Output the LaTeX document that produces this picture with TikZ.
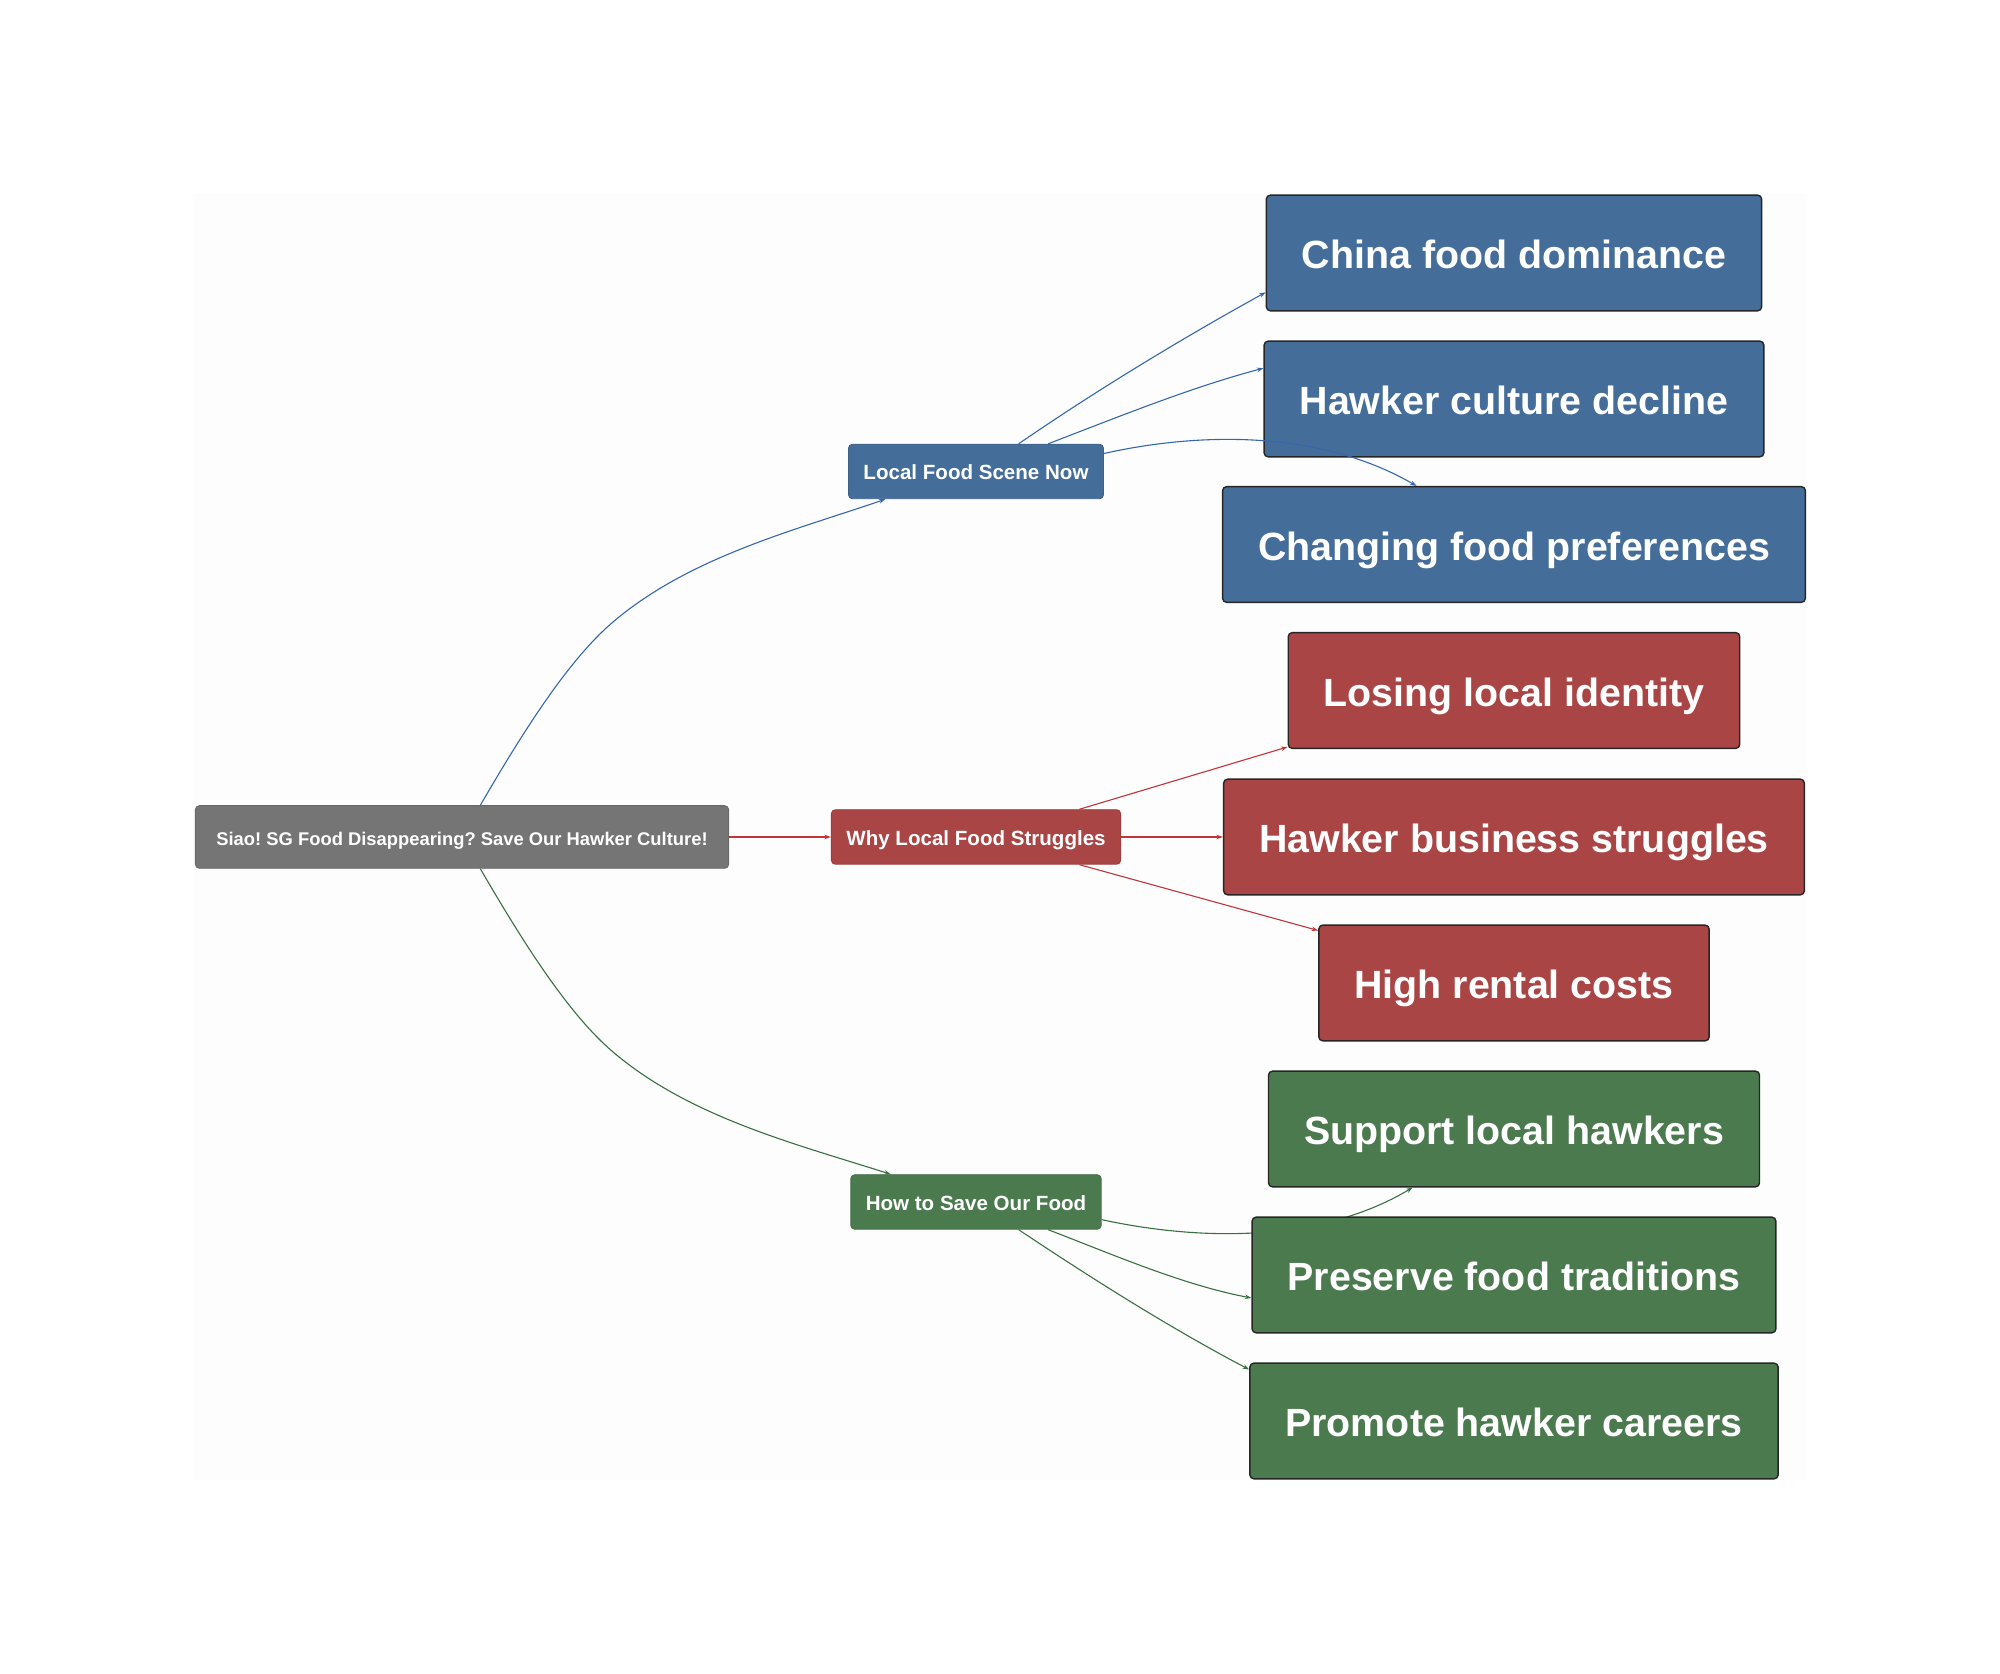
\documentclass[tikz,border=0pt]{standalone}
\usepackage{fontspec}
\setmainfont{Liberation Sans}
\usetikzlibrary{arrows.meta}
\definecolor{rootgray}{HTML}{757575}
\definecolor{sceneblue}{HTML}{446E99}
\definecolor{strugglered}{HTML}{A94545}
\definecolor{savegreen}{HTML}{4A7A4E}
\definecolor{linkblue}{HTML}{3567AE}
\definecolor{linkred}{HTML}{C0343A}
\definecolor{linkgreen}{HTML}{3A7040}
\definecolor{paper}{HTML}{FDFDFD}
\tikzset{
	topicbox/.style={rounded corners=0.04cm, line width=0.09mm, text=white, font=\bfseries\fontsize{5.85}{7}\selectfont, inner xsep=0.15cm, inner ysep=0, minimum height=0.545cm, text height=0.2cm, text depth=0.03cm},
	leafbox/.style={rounded corners=0.04cm, draw=black!85, line width=0.14mm, text=white, font=\bfseries\fontsize{11.2}{13}\selectfont, inner xsep=0.355cm, inner ysep=0, minimum height=1.157cm, text height=0.35cm, text depth=0.03cm},
	link/.style={line width=0.11mm, -{Stealth[length=0.65mm, width=0.45mm]}},
}

\begin{document}
\frenchspacing
\begin{tikzpicture}
			%%%%% START %%%%%
			
			\useasboundingbox (0, 0) rectangle (20, 16.74);
			\fill[white] (0, 0) rectangle (20, 16.74);
			\fill[paper] (1.93, 1.94) rectangle (18.07, 14.81);
			
			\node[topicbox, fill=rootgray, draw=rootgray!90!black, font=\bfseries\fontsize{5.23}{7}\selectfont, inner xsep=0.21cm, minimum height=0.626cm] (root) at (4.62, 8.37) {Siao! SG Food Disappearing? Save Our Hawker Culture!};
			
			\node[topicbox, fill=sceneblue, draw=sceneblue!90!black] (scene) at (9.76, 12.025) {Local Food Scene Now};
			\node[topicbox, fill=strugglered, draw=strugglered!90!black] (struggle) at (9.76, 8.37) {Why Local Food Struggles};
			\node[topicbox, fill=savegreen, draw=savegreen!90!black] (save) at (9.76, 4.72) {How to Save Our Food};
			
			\node[leafbox, fill=sceneblue] (china) at (15.14, 14.21) {China food dominance};
			\node[leafbox, fill=sceneblue] (decline) at (15.14, 12.75) {Hawker culture decline};
			\node[leafbox, fill=sceneblue] (prefs) at (15.14, 11.295) {Changing food preferences};
			\node[leafbox, fill=strugglered] (identity) at (15.14, 9.835) {Losing local identity};
			\node[leafbox, fill=strugglered] (business) at (15.14, 8.37) {Hawker business struggles};
			\node[leafbox, fill=strugglered] (rental) at (15.14, 6.91) {High rental costs};
			\node[leafbox, fill=savegreen] (hawkers) at (15.14, 5.45) {Support local hawkers};
			
			\draw[link, color=linkgreen] (save.-8.5) .. controls (12.0, 4.33) and (13.2, 4.31) .. (hawkers.210);
			
			\node[leafbox, fill=savegreen] (traditions) at (15.14, 3.99) {Preserve food traditions};
			\node[leafbox, fill=savegreen] (careers) at (15.14, 2.53) {Promote hawker careers};
			
			\draw[link, color=linkblue] (root.60) .. controls (5.24, 9.44) and (5.69, 10.146) .. (6.13, 10.52) .. controls (6.9, 11.175) and (7.96, 11.44) .. (scene.197);
			\draw[link, color=linkred] (root.east) -- (struggle.west);
			\draw[link, color=linkgreen] (root.-60) .. controls (5.24, 7.30) and (5.69, 6.594) .. (6.13, 6.22) .. controls (6.9, 5.565) and (7.96, 5.30) .. (save.162.6);
			
			\draw[link, color=linkblue] (scene.33.4) .. controls (11.0, 12.86) and (11.83, 13.36) .. (china.189.1);
			\draw[link, color=linkblue] (scene.21.4) .. controls (11.18, 12.57) and (11.92, 12.87) .. (decline.173.4);
			\draw[link, color=linkblue] (scene.8.4) .. controls (12.0, 12.42) and (13.2, 12.44) .. (prefs.149.8);
			\draw[link, color=linkred] (struggle.15.6) -- (identity.194.5);
			\draw[link, color=linkred] (struggle.east) -- (business.west);
			\draw[link, color=linkred] (struggle.-15.6) -- (rental.165.2);
			\draw[link, color=linkgreen] (save.-21.4) .. controls (11.14, 4.19) and (11.83, 3.89) .. (traditions.185.7);
			\draw[link, color=linkgreen] (save.-33.4) .. controls (10.94, 3.94) and (11.72, 3.45) .. (careers.169.5);
			
			%%%%% END %%%%%
		\end{tikzpicture}
\end{document}
